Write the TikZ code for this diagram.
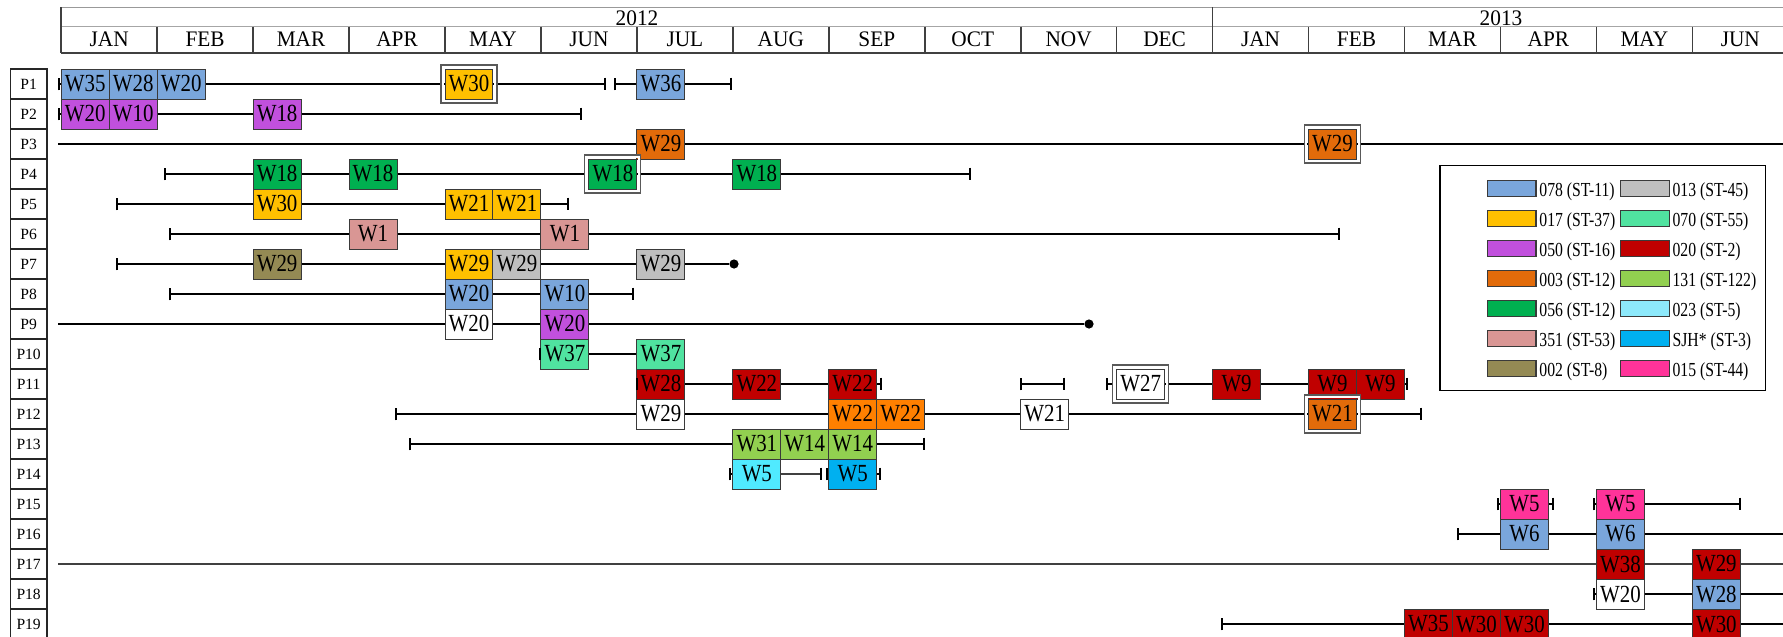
\documentclass[tikz,border=0pt]{standalone}
\usepackage{fontspec}
\setmainfont{Liberation Serif}
\newfontfamily\boxfam{Liberation Serif}[FakeStretch=0.85]
\newfontfamily\legfam{Liberation Serif}[FakeStretch=0.79]
\newfontfamily\hdrfam{Liberation Serif}[FakeStretch=0.96]
\usetikzlibrary{arrows.meta}
\definecolor{cA}{HTML}{7AA6DB}
\definecolor{cB}{HTML}{FFC000}
\definecolor{cC}{HTML}{C150DD}
\definecolor{cD}{HTML}{E26B0A}
\definecolor{cE}{HTML}{00B050}
\definecolor{cF}{HTML}{D99694}
\definecolor{cG}{HTML}{948A54}
\definecolor{cH}{HTML}{BFBFBF}
\definecolor{cI}{HTML}{50E3A0}
\definecolor{cJ}{HTML}{C00000}
\definecolor{cK}{HTML}{92D050}
\definecolor{cL}{HTML}{8DE9FB}
\definecolor{cLb}{HTML}{50EAFF}
\definecolor{cM}{HTML}{00B0F0}
\definecolor{cN}{HTML}{FF3399}
\definecolor{cO}{HTML}{FF8000}
\definecolor{bordr}{HTML}{3A3A3A}
\newcommand\SC[1]{85.1875+47.975*(#1)}
\newcommand\RY[1]{84+30*(#1-1)}
\newcommand\MX[1]{61.2+95.95*(#1)}
\begin{document}
\begin{tikzpicture}[x=0.5pt,y=-0.5pt,
  wbox/.style={draw=bordr, line width=0.5pt, minimum width=23.99pt, minimum height=15pt, inner sep=0pt, font=\boxfam\fontsize{12.3}{12}\selectfont},
  plab/.style={draw=black!85, line width=0.7pt, minimum width=18.35pt, minimum height=15pt, inner sep=0pt, font=\fontsize{7.8}{8}\selectfont},
  mlab/.style={anchor=base, inner sep=0pt, font=\hdrfam\fontsize{11.1}{11}\selectfont},
  swatch/.style={draw=bordr, line width=0.65pt, minimum width=24.3pt, minimum height=7.7pt, inner sep=0pt},
  legtext/.style={anchor=base west, inner sep=0pt, font=\legfam\fontsize{9.95}{10}\selectfont},
  conn/.style={line width=1pt, black},
  thinconn/.style={line width=0.6pt, black!75},
  tl/.style={{Bar[width=6.4pt]}-},
  tr/.style={-{Bar[width=6.4pt]}},
  tb/.style={{Bar[width=6.4pt]}-{Bar[width=6.4pt]}},
  dotn/.style={circle, fill=black, inner sep=0pt, minimum size=4.6pt},
  frmgap/.style={draw=white, line width=1.2pt},
  frmline/.style={draw=black!65, line width=0.55pt}
]
\useasboundingbox (0,0) rectangle (1783,637);
\fill[white] (0,0) rectangle (1783,637);

% ---------- header ----------
\draw[black!40, line width=0.65pt] (61.2,7.3) -- (1783,7.3);
\draw[black!35, line width=0.65pt] (61.2,26.7) -- (1783,26.7);
\draw[black!75, line width=1pt] (61.2,53.3) -- (1783,53.3);
\draw[black!75, line width=0.8pt] (61.2,7.3) -- (61.2,53.3);
\draw[black!75, line width=0.8pt] ({\MX{12}},7.3) -- ({\MX{12}},53.3);
\foreach \k in {1,...,11,13,14,15,16,17}
  \draw[black!75, line width=0.8pt] ({\MX{\k}},26.7) -- ({\MX{\k}},53.3);
\foreach \m [count=\i from 0] in {JAN,FEB,MAR,APR,MAY,JUN,JUL,AUG,SEP,OCT,NOV,DEC,JAN,FEB,MAR,APR,MAY,JUN}
  \node[mlab] (mon\i) at ({\MX{\i}+47.975},46.7) {\m};
\node[mlab] (y2012) at (637,25.7) {2012};
\node[mlab] (y2013) at (1501,25.7) {2013};

% ---------- row labels ----------
\foreach \i in {1,...,19}
  \node[plab] (p\i) at (28.65,{\RY{\i}}) {P\i};

% ---------- boxes ----------
% row 1
\node[wbox,fill=cA] (r1a) at ({\SC{0}},{\RY{1}}) {W35};
\node[wbox,fill=cA] (r1b) at ({\SC{1}},{\RY{1}}) {W28};
\node[wbox,fill=cA] (r1c) at ({\SC{2}},{\RY{1}}) {W20};
\node[wbox,fill=cB] (r1d) at ({\SC{8}},{\RY{1}}) {W30};
\node[wbox,fill=cA] (r1e) at ({\SC{12}},{\RY{1}}) {W36};
% row 2
\node[wbox,fill=cC] (r2a) at ({\SC{0}},{\RY{2}}) {W20};
\node[wbox,fill=cC] (r2b) at ({\SC{1}},{\RY{2}}) {W10};
\node[wbox,fill=cC] (r2c) at ({\SC{4}},{\RY{2}}) {W18};
% row 3
\node[wbox,fill=cD] (r3a) at ({\SC{12}},{\RY{3}}) {W29};
\node[wbox,fill=cD] (r3b) at ({\SC{26}},{\RY{3}}) {W29};
% row 4
\node[wbox,fill=cE] (r4a) at ({\SC{4}},{\RY{4}}) {W18};
\node[wbox,fill=cE] (r4b) at ({\SC{6}},{\RY{4}}) {W18};
\node[wbox,fill=cE] (r4c) at ({\SC{11}},{\RY{4}}) {W18};
\node[wbox,fill=cE] (r4d) at ({\SC{14}},{\RY{4}}) {W18};
% row 5
\node[wbox,fill=cB] (r5a) at ({\SC{4}},{\RY{5}}) {W30};
\node[wbox,fill=cB] (r5b) at ({\SC{8}},{\RY{5}}) {W21};
\node[wbox,fill=cB] (r5c) at ({\SC{9}},{\RY{5}}) {W21};
% row 6
\node[wbox,fill=cF] (r6a) at ({\SC{6}},{\RY{6}}) {W1};
\node[wbox,fill=cF] (r6b) at ({\SC{10}},{\RY{6}}) {W1};
% row 7
\node[wbox,fill=cG] (r7a) at ({\SC{4}},{\RY{7}}) {W29};
\node[wbox,fill=cB] (r7b) at ({\SC{8}},{\RY{7}}) {W29};
\node[wbox,fill=cH] (r7c) at ({\SC{9}},{\RY{7}}) {W29};
\node[wbox,fill=cH] (r7d) at ({\SC{12}},{\RY{7}}) {W29};
% row 8
\node[wbox,fill=cA] (r8a) at ({\SC{8}},{\RY{8}}) {W20};
\node[wbox,fill=cA] (r8b) at ({\SC{10}},{\RY{8}}) {W10};
% row 9
\node[wbox,fill=white] (r9a) at ({\SC{8}},{\RY{9}}) {W20};
\node[wbox,fill=cC] (r9b) at ({\SC{10}},{\RY{9}}) {W20};
% row 10
\node[wbox,fill=cI] (r10a) at ({\SC{10}},{\RY{10}}) {W37};
\node[wbox,fill=cI] (r10b) at ({\SC{12}},{\RY{10}}) {W37};
% row 11
\node[wbox,fill=cJ] (r11a) at ({\SC{12}},{\RY{11}}) {W28};
\node[wbox,fill=cJ] (r11b) at ({\SC{14}},{\RY{11}}) {W22};
\node[wbox,fill=cJ] (r11c) at ({\SC{16}},{\RY{11}}) {W22};
\node[wbox,fill=white] (r11d) at ({\SC{22}},{\RY{11}}) {W27};
\node[wbox,fill=cJ] (r11e) at ({\SC{24}},{\RY{11}}) {W9};
\node[wbox,fill=cJ] (r11f) at ({\SC{26}},{\RY{11}}) {W9};
\node[wbox,fill=cJ] (r11g) at ({\SC{27}},{\RY{11}}) {W9};
% row 12
\node[wbox,fill=white] (r12a) at ({\SC{12}},{\RY{12}}) {W29};
\node[wbox,fill=cO] (r12b) at ({\SC{16}},{\RY{12}}) {W22};
\node[wbox,fill=cO] (r12c) at ({\SC{17}},{\RY{12}}) {W22};
\node[wbox,fill=white] (r12d) at ({\SC{20}},{\RY{12}}) {W21};
\node[wbox,fill=cD] (r12e) at ({\SC{26}},{\RY{12}}) {W21};
% row 13
\node[wbox,fill=cK] (r13a) at ({\SC{14}},{\RY{13}}) {W31};
\node[wbox,fill=cK] (r13b) at ({\SC{15}},{\RY{13}}) {W14};
\node[wbox,fill=cK] (r13c) at ({\SC{16}},{\RY{13}}) {W14};
% row 14
\node[wbox,fill=cLb] (r14a) at ({\SC{14}},{\RY{14}}) {W5};
\node[wbox,fill=cM] (r14b) at ({\SC{16}},{\RY{14}}) {W5};
% row 15
\node[wbox,fill=cN] (r15a) at ({\SC{30}},{\RY{15}}) {W5};
\node[wbox,fill=cN] (r15b) at ({\SC{32}},{\RY{15}}) {W5};
% row 16
\node[wbox,fill=cA] (r16a) at ({\SC{30}},{\RY{16}}) {W6};
\node[wbox,fill=cA] (r16b) at ({\SC{32}},{\RY{16}}) {W6};
% row 17
\node[wbox,fill=cJ] (r17a) at ({\SC{32}},{\RY{17}}) {W38};
\node[wbox,fill=cJ] (r17b) at ({\SC{34}},{\RY{17}}) {W29};
% row 18
\node[wbox,fill=white] (r18a) at ({\SC{32}},{\RY{18}}) {W20};
\node[wbox,fill=cA] (r18b) at ({\SC{34}},{\RY{18}}) {W28};
% row 19
\node[wbox,fill=cJ] (r19a) at ({\SC{28}},{\RY{19}}) {W35};
\node[wbox,fill=cJ] (r19b) at ({\SC{29}},{\RY{19}}) {W30};
\node[wbox,fill=cJ] (r19c) at ({\SC{30}},{\RY{19}}) {W30};
\node[wbox,fill=cJ] (r19d) at ({\SC{34}},{\RY{19}}) {W30};

% ---------- end points ----------
\coordinate (r1s) at (58.3,{\RY{1}});   \coordinate (r1t) at (606,{\RY{1}});
\coordinate (r1u) at (614.3,{\RY{1}});  \coordinate (r1v) at (732.4,{\RY{1}});
\coordinate (r2s) at (58.3,{\RY{2}});   \coordinate (r2t) at (582,{\RY{2}});
\coordinate (r3s) at (58,{\RY{3}});     \coordinate (r3t) at (1783,{\RY{3}});
\coordinate (r4s) at (164,{\RY{4}});    \coordinate (r4t) at (971,{\RY{4}});
\coordinate (r5s) at (116,{\RY{5}});    \coordinate (r5t) at (569,{\RY{5}});
\coordinate (r6s) at (169,{\RY{6}});    \coordinate (r6t) at (1339.5,{\RY{6}});
\coordinate (r7s) at (116,{\RY{7}});
\node[dotn] (r7t) at (734,{\RY{7}}) {};
\coordinate (r8s) at (169,{\RY{8}});    \coordinate (r8t) at (634,{\RY{8}});
\coordinate (r9s) at (58,{\RY{9}});
\node[dotn] (r9t) at (1089,{\RY{9}}) {};
\coordinate (r10s) at (539,{\RY{10}});
\coordinate (r11s) at (635.5,{\RY{11}}); \coordinate (r11t) at (881.5,{\RY{11}});
\coordinate (r11u) at (1020,{\RY{11}});  \coordinate (r11v) at (1065,{\RY{11}});
\coordinate (r11w) at (1105.5,{\RY{11}}); \coordinate (r11x) at (1408,{\RY{11}});
\coordinate (r12s) at (395,{\RY{12}});  \coordinate (r12t) at (1422,{\RY{12}});
\coordinate (r13s) at (408.5,{\RY{13}}); \coordinate (r13t) at (925,{\RY{13}});
\coordinate (r14s) at (729,{\RY{14}});  \coordinate (r14t) at (822.4,{\RY{14}});
\coordinate (r14u) at (825.7,{\RY{14}}); \coordinate (r14v) at (880.8,{\RY{14}});
\coordinate (r15s) at (1497.2,{\RY{15}}); \coordinate (r15t) at (1554,{\RY{15}});
\coordinate (r15u) at (1592.5,{\RY{15}}); \coordinate (r15v) at (1740.6,{\RY{15}});
\coordinate (r16s) at (1456.8,{\RY{16}}); \coordinate (r16t) at (1783,{\RY{16}});
\coordinate (r17s) at (58,{\RY{17}});   \coordinate (r17t) at (1783,{\RY{17}});
\coordinate (r18s) at (1592.5,{\RY{18}}); \coordinate (r18t) at (1783,{\RY{18}});
\coordinate (r19s) at (1221,{\RY{19}}); \coordinate (r19t) at (1783,{\RY{19}});

% ---------- connectors ----------
\draw[conn,tl] (r1s) -- (r1a.west);
\draw[conn] (r1c.east) -- (r1d.west);
\draw[conn,tr] (r1d.east) -- (r1t);
\draw[conn,tl] (r1u) -- (r1e.west);
\draw[conn,tr] (r1e.east) -- (r1v);

\draw[conn,tl] (r2s) -- (r2a.west);
\draw[conn] (r2b.east) -- (r2c.west);
\draw[conn,tr] (r2c.east) -- (r2t);

\draw[conn] (r3s) -- (r3a.west);
\draw[conn] (r3a.east) -- (r3b.west);
\draw[conn] (r3b.east) -- (r3t);

\draw[conn,tl] (r4s) -- (r4a.west);
\draw[conn] (r4a.east) -- (r4b.west);
\draw[conn] (r4b.east) -- (r4c.west);
\draw[conn] (r4c.east) -- (r4d.west);
\draw[conn,tr] (r4d.east) -- (r4t);

\draw[conn,tl] (r5s) -- (r5a.west);
\draw[conn] (r5a.east) -- (r5b.west);
\draw[conn,tr] (r5c.east) -- (r5t);

\draw[conn,tl] (r6s) -- (r6a.west);
\draw[conn] (r6a.east) -- (r6b.west);
\draw[conn,tr] (r6b.east) -- (r6t);

\draw[conn,tl] (r7s) -- (r7a.west);
\draw[conn] (r7a.east) -- (r7b.west);
\draw[conn] (r7c.east) -- (r7d.west);
\draw[conn] (r7d.east) -- (r7t);

\draw[conn,tl] (r8s) -- (r8a.west);
\draw[conn] (r8a.east) -- (r8b.west);
\draw[conn,tr] (r8b.east) -- (r8t);

\draw[conn] (r9s) -- (r9a.west);
\draw[conn] (r9a.east) -- (r9b.west);
\draw[conn] (r9b.east) -- (r9t);

\draw[conn,tl] (r10s) -- (r10a.west);
\draw[conn] (r10a.east) -- (r10b.west);

\draw[conn,tl] (r11s) -- (r11a.west);
\draw[conn] (r11a.east) -- (r11b.west);
\draw[conn] (r11b.east) -- (r11c.west);
\draw[conn,tr] (r11c.east) -- (r11t);
\draw[conn,tb] (r11u) -- (r11v);
\draw[conn,tl] (r11w) -- (r11d.west);
\draw[conn] (r11d.east) -- (r11e.west);
\draw[conn] (r11e.east) -- (r11f.west);
\draw[conn,tr] (r11g.east) -- (r11x);

\draw[conn,tl] (r12s) -- (r12a.west);
\draw[conn] (r12a.east) -- (r12b.west);
\draw[conn] (r12c.east) -- (r12d.west);
\draw[conn] (r12d.east) -- (r12e.west);
\draw[conn,tr] (r12e.east) -- (r12t);

\draw[conn,tl] (r13s) -- (r13a.west);
\draw[conn,tr] (r13c.east) -- (r13t);

\draw[conn,tl] (r14s) -- (r14a.west);
\draw[thinconn] (r14a.east) -- (r14t);
\draw[conn,-{Bar[width=6.4pt]}] ([xshift=-0.3pt]r14t) -- (r14t);
\draw[conn,tl] (r14u) -- (r14b.west);
\draw[conn,tr] (r14b.east) -- (r14v);

\draw[conn,tl] (r15s) -- (r15a.west);
\draw[conn,tr] (r15a.east) -- (r15t);
\draw[conn,tl] (r15u) -- (r15b.west);
\draw[conn,tr] (r15b.east) -- (r15v);

\draw[conn,tl] (r16s) -- (r16a.west);
\draw[conn] (r16a.east) -- (r16b.west);
\draw[conn] (r16b.east) -- (r16t);

\draw[thinconn, line width=0.7pt] (r17s) -- (r17a.west);
\draw[thinconn, line width=0.7pt] (r17a.east) -- (r17b.west);
\draw[thinconn, line width=0.7pt] (r17b.east) -- (r17t);

\draw[conn,tl] (r18s) -- (r18a.west);
\draw[conn] (r18a.east) -- (r18b.west);
\draw[conn] (r18b.east) -- (r18t);

\draw[conn,tl] (r19s) -- (r19a.west);
\draw[conn] (r19c.east) -- (r19d.west);
\draw[conn] (r19d.east) -- (r19t);

% ---------- double frames ----------
\foreach \b in {r1d,r3b,r4c,r11d,r12e} {
  \draw[frmgap] ([xshift=-0.9pt,yshift=0.9pt]\b.north west) rectangle ([xshift=0.9pt,yshift=-0.9pt]\b.south east);
  \draw[frmline] ([xshift=-1.75pt,yshift=1.75pt]\b.north west) rectangle ([xshift=1.75pt,yshift=-1.75pt]\b.south east);
}

% ---------- legend ----------
\draw[black, line width=0.65pt] (1440,165.7) rectangle (1765.7,390.7);
\foreach \c/\t [count=\i from 0] in {cA/078 (ST-11), cB/017 (ST-37), cC/050 (ST-16), cD/003 (ST-12), cE/056 (ST-12), cF/351 (ST-53), cG/002 (ST-8)} {
  \node[swatch, fill=\c] (la\i) at (1511.6,{188.5+30*\i}) {};
  \node[legtext] (lta\i) at (1539,{196+30*\i}) {\t};
}
\foreach \c/\t [count=\i from 0] in {cH/013 (ST-45), cI/070 (ST-55), cJ/020 (ST-2), cK/131 (ST-122), cL/023 (ST-5), cM/SJH* (ST-3), cN/015 (ST-44)} {
  \node[swatch, fill=\c] (lb\i) at (1644.9,{188.5+30*\i}) {};
  \node[legtext] (ltb\i) at (1672.2,{196+30*\i}) {\t};
}
\end{tikzpicture}
\end{document}
